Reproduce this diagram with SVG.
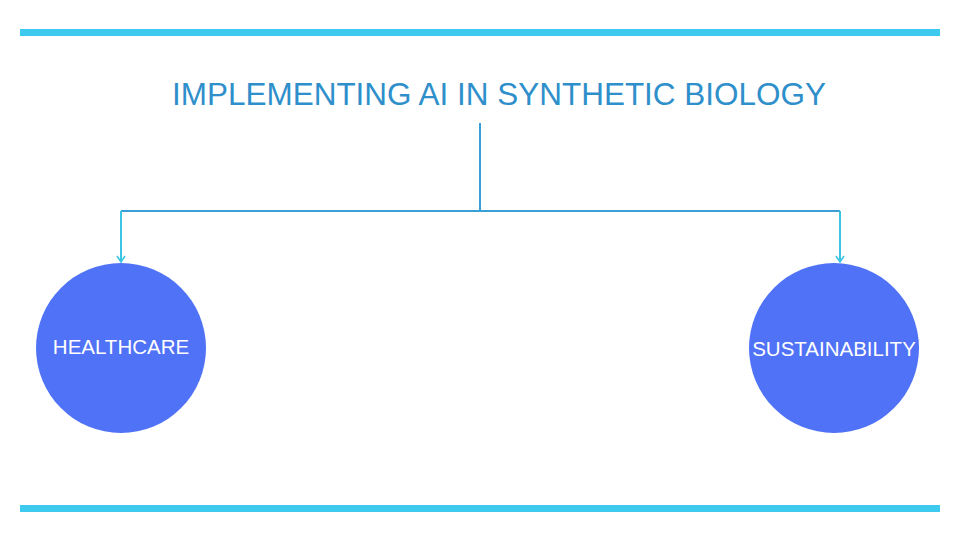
<svg xmlns="http://www.w3.org/2000/svg" width="974" height="547" viewBox="0 0 974 547">
<style>
.bar{fill:#3ec9ee}
.node circle{fill:#4f72f7}
.node text{fill:#ffffff;font-family:"Liberation Sans",Arial,sans-serif;font-size:20.5px;text-anchor:middle}
.title{fill:#2f8fcb;font-family:"Liberation Sans",Arial,sans-serif;font-size:32px;text-anchor:middle}
.edge{fill:none;stroke-width:2}
</style>
<defs>
<marker id="arr" viewBox="0 0 10 10" refX="9" refY="5" markerWidth="10" markerHeight="10" markerUnits="userSpaceOnUse" orient="auto">
<path d="M3,1 L9,5 L3,9" fill="none" stroke="#3cc4e6" stroke-width="1.6"/>
</marker>
</defs>
<rect width="974" height="547" fill="#ffffff"/>
<rect class="bar" x="20" y="29" width="920" height="7"/>
<rect class="bar" x="20" y="505" width="920" height="7"/>
<g id="title">
<text class="title" x="499" y="105" textLength="654" lengthAdjust="spacingAndGlyphs">IMPLEMENTING AI IN SYNTHETIC BIOLOGY</text>
</g>
<g id="connectors">
<path class="edge" stroke="#3a9fd4" d="M480,123 V211"/>
<path class="edge" stroke="#3a9fd4" d="M121,211 H840"/>
<path class="edge" stroke="#3cc4e6" d="M121,211 V262" marker-end="url(#arr)"/>
<path class="edge" stroke="#3cc4e6" d="M840,211 V262" marker-end="url(#arr)"/>
</g>
<g id="healthcare" class="node">
<circle cx="121" cy="348" r="85"/>
<text x="121" y="354">HEALTHCARE</text>
</g>
<g id="sustainability" class="node">
<circle cx="834" cy="348" r="85"/>
<text x="834" y="356">SUSTAINABILITY</text>
</g>
</svg>
